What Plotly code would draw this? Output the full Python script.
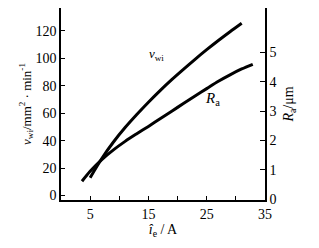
import plotly.graph_objects as go

# Data
current_v = [5, 7, 9, 11, 13, 15, 17, 19, 21, 23, 25, 27, 29, 31]
v_wi = [13, 27, 39, 49.5, 59, 68, 76.5, 84.5, 92, 99.3, 106.3, 113, 119.4, 125.6]

current_r = [3.6, 5, 7, 9, 11, 13, 15, 17, 19, 21, 23, 25, 27, 29, 31, 32.9]
r_a = [0.61, 0.95, 1.35, 1.68, 1.97, 2.23, 2.48, 2.74, 3.0, 3.26, 3.52, 3.77, 4.02, 4.24, 4.44, 4.6]

x_ticks = [5, 10, 15, 20, 25, 30, 35]
x_ticktext = ["5", "", "15", "", "25", "", "35"]
left_ticks = [0, 20, 40, 60, 80, 100, 120]
right_ticks = [0, 1, 2, 3, 4, 5]

FONT = "Liberation Serif"

fig = go.Figure()
fig.add_trace(go.Scatter(x=current_v, y=v_wi, mode="lines",
                         line=dict(color="black", width=3, shape="spline", smoothing=0.8),
                         showlegend=False))
fig.add_trace(go.Scatter(x=current_r, y=r_a, mode="lines", yaxis="y2",
                         line=dict(color="black", width=3, shape="spline", smoothing=0.8),
                         showlegend=False))

fig.add_annotation(x=16.4, y=103, text="<i>v</i><sub>wi</sub>", showarrow=False,
                   font=dict(family=FONT, size=13, color="black"))
fig.add_annotation(x=26, y=3.41, yref="y2", text="<i>R</i><sub>a</sub>", showarrow=False,
                   font=dict(family=FONT, size=15, color="black"))

fig.update_layout(
    width=319, height=248,
    margin=dict(l=61, r=54, t=8, b=48),
    paper_bgcolor="white", plot_bgcolor="white",
    font=dict(family=FONT, size=14, color="black"),
    xaxis=dict(range=[0, 35], tickvals=x_ticks, ticktext=x_ticktext,
               ticks="inside", ticklen=4, tickcolor="black",
               showline=True, linecolor="black", linewidth=1.5,
               showgrid=False, zeroline=False,
               title=dict(text="<i>î</i><sub>e</sub> / A", standoff=4,
                          font=dict(family=FONT, size=14))),
    yaxis=dict(range=[-3.3, 136.7], tickvals=left_ticks,
               ticks="inside", ticklen=4, tickcolor="black",
               showline=True, linecolor="black", linewidth=1.5,
               showgrid=False, zeroline=False,
               title=dict(text="<i>v</i><sub>wi</sub>/mm<sup>2</sup> · min<sup>-1</sup>",
                          standoff=0, font=dict(family=FONT, size=13))),
    yaxis2=dict(range=[-0.03, 6.52], tickvals=right_ticks, overlaying="y", side="right",
                ticks="inside", ticklen=5, tickcolor="black",
                showline=True, linecolor="black", linewidth=1.5,
                showgrid=False, zeroline=False,
                title=dict(text="<i>R</i><sub>a</sub>/μm", standoff=8,
                           font=dict(family=FONT, size=14))),
)

fig.write_html("out.html")
